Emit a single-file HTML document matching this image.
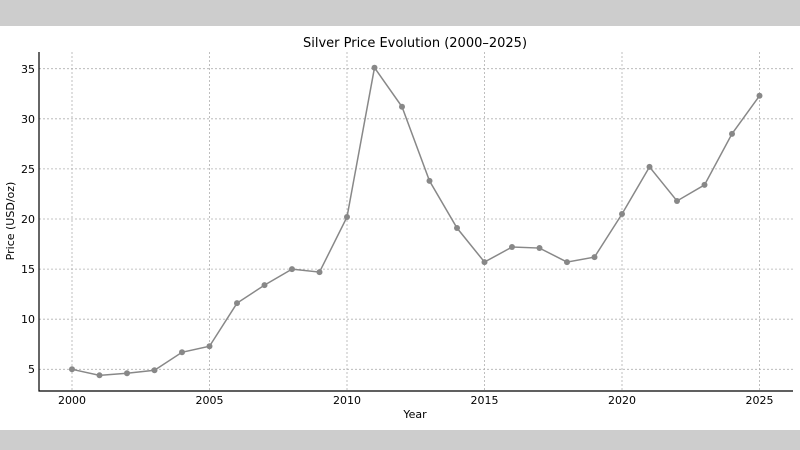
<!DOCTYPE html>
<html><head><meta charset="utf-8"><style>
html,body{margin:0;padding:0;background:#fff;}
svg{display:block;font-family:"DejaVu Sans","Liberation Sans",sans-serif;}
</style></head><body>
<svg width="800" height="450" viewBox="0 0 800 450" xmlns="http://www.w3.org/2000/svg">
<rect x="0" y="0" width="800" height="26" fill="#cdcdcd"/>
<rect x="0" y="430" width="800" height="20" fill="#cdcdcd"/>
<g stroke="#b0b0b0" stroke-width="0.8" stroke-dasharray="2,2">
<line x1="72" y1="52" x2="72" y2="391"/><line x1="209.5" y1="52" x2="209.5" y2="391"/>
<line x1="347" y1="52" x2="347" y2="391"/><line x1="484.5" y1="52" x2="484.5" y2="391"/>
<line x1="622" y1="52" x2="622" y2="391"/><line x1="759.5" y1="52" x2="759.5" y2="391"/>
<line x1="39" y1="369.3" x2="793" y2="369.3"/><line x1="39" y1="319.2" x2="793" y2="319.2"/>
<line x1="39" y1="269.1" x2="793" y2="269.1"/><line x1="39" y1="219" x2="793" y2="219"/>
<line x1="39" y1="168.9" x2="793" y2="168.9"/><line x1="39" y1="118.8" x2="793" y2="118.8"/>
<line x1="39" y1="68.7" x2="793" y2="68.7"/>
</g>
<g stroke="#000" stroke-width="1.2"><line x1="39" y1="52" x2="39" y2="391.5"/><line x1="38.5" y1="391" x2="793" y2="391"/></g>
<g font-size="11" fill="#000" text-anchor="middle">
<text x="72" y="404">2000</text><text x="209.5" y="404">2005</text><text x="347" y="404">2010</text>
<text x="484.5" y="404">2015</text><text x="622" y="404">2020</text><text x="759.5" y="404">2025</text>
<text x="415" y="418">Year</text>
<text x="415" y="47" font-size="13">Silver Price Evolution (2000–2025)</text>
</g>
<g font-size="11" fill="#000" text-anchor="end">
<text x="35" y="373">5</text><text x="35" y="323">10</text><text x="35" y="273">15</text>
<text x="35" y="223">20</text><text x="35" y="173">25</text><text x="35" y="123">30</text><text x="35" y="73">35</text>
</g>
<text transform="translate(14,221) rotate(-90)" font-size="11" text-anchor="middle">Price (USD/oz)</text>
<g id="d" fill="#888"></g>
<polyline id="pl" fill="none" stroke="#888" stroke-width="1.5" points=""/>
<script>
var v=[5.0,4.4,4.6,4.9,6.7,7.3,11.6,13.4,15.0,14.7,20.2,35.1,31.2,23.8,19.1,15.7,17.2,17.1,15.7,16.2,20.5,25.2,21.8,23.4,28.5,32.3];
var p=[],g=document.getElementById('d');
v.forEach(function(a,i){var x=72+i*27.5,y=369.3-(a-5)*10.02;p.push(x+','+y);
var c=document.createElementNS('http://www.w3.org/2000/svg','circle');c.setAttribute('cx',x);c.setAttribute('cy',y);c.setAttribute('r',3);g.appendChild(c);});
document.getElementById('pl').setAttribute('points',p.join(' '));
</script>
</svg>
</body></html>
